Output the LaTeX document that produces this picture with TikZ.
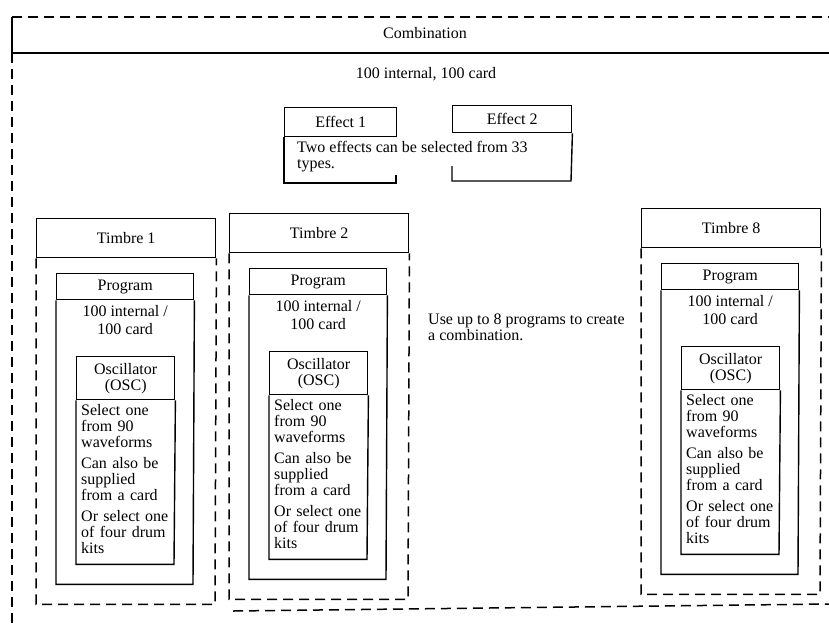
\documentclass[tikz,border=0pt]{standalone}
\usepackage{fontspec}
\setmainfont{Liberation Serif}
\usetikzlibrary{positioning}
\tikzset{
  frame/.style = {dashed, dash pattern=on 10pt off 6pt, line width=1.5pt},
  box/.style = {draw, line width=1.4pt, inner sep=0pt},
  txt/.style = {font=\fontsize{16}{16}\selectfont, inner sep=0pt}
}
\def\timbre(#1,#2)#3;%
{
  % title
  \node[box, txt, anchor=north west, minimum width=179pt, minimum height=39pt] (t#3) at (#1,#2) {Timbre #3};
  \draw[frame] (t#3.south west) -- ++(0,346) -- ++(179,0) -- (t#3.south east);
  % program
  \node[box, txt, anchor=north west, minimum width=137pt, minimum height=26pt] (p#3) at (#1+20,#2+55) {Program};
  \draw[box] (p#3.south west) -- ++(0,284) -- ++(137,0) -- (p#3.south east);
  \node[txt, align=center, below=5pt of p#3, font=\fontsize{16}{18}\selectfont] (pm#3) {100 internal /\\100 card};
  % oscillator
  \node[box, txt, align=center, anchor=north west, minimum width=98pt, minimum height=43pt] (o#3) at (#1+40,#2+138) {Oscillator\\(OSC)};
  \draw[box] (o#3.south west) -- ++(0,164) -- ++(98,0) -- (o#3.south east);
  \node[txt, align=left, anchor=north west, text width=92pt] (om#3) at (#1+45,#2+186)
    {Select one\\from 90\\waveforms\\[5pt]Can also be\\supplied\\from a card\\[5pt]Or select one\\of four drum\\kits};
}

\begin{document}
\begin{tikzpicture}[x=1pt, y=-1pt]
  \useasboundingbox (0,0) rectangle (829,625);
  % combination
  \draw[frame] (12,17) -- (829,17);
  \draw[box] (12,17) -- (12,53) -- (829,53);
  \draw[frame] (12,53) -- (12,625);
  \draw[frame] (233,611) -- (829,604);
  \node[txt] (comb) at (425,33) {Combination};
  \node[txt] (combmem) at (426,74) {100 internal, 100 card};
  % effects
  \node[box, txt, anchor=north west, minimum width=112pt, minimum height=29pt] (e1) at (284,107) {Effect 1};
  \node[box, txt, anchor=north west, minimum width=119pt, minimum height=27pt] (e2) at (452,105) {Effect 2};
  \draw[box] (e1.south west) -- (284,183) -- (396,183) -- (396,175);
  \draw[box] (e2.south east) -- (571,181) -- (452,181) -- (452,166);
  \node[txt, align=left, anchor=north west] (etext) at (297,141) {Two effects can be selected from 33\\types.};
  % timbres
  \foreach \X/\Y/\N in {36/218/1, 229/213/2, 641/208/8} { \timbre(\X,\Y)\N; };
  \node[txt, align=left, anchor=north west] (use) at (428,314) {Use up to 8 programs to create\\a combination.};
\end{tikzpicture}
\end{document}
